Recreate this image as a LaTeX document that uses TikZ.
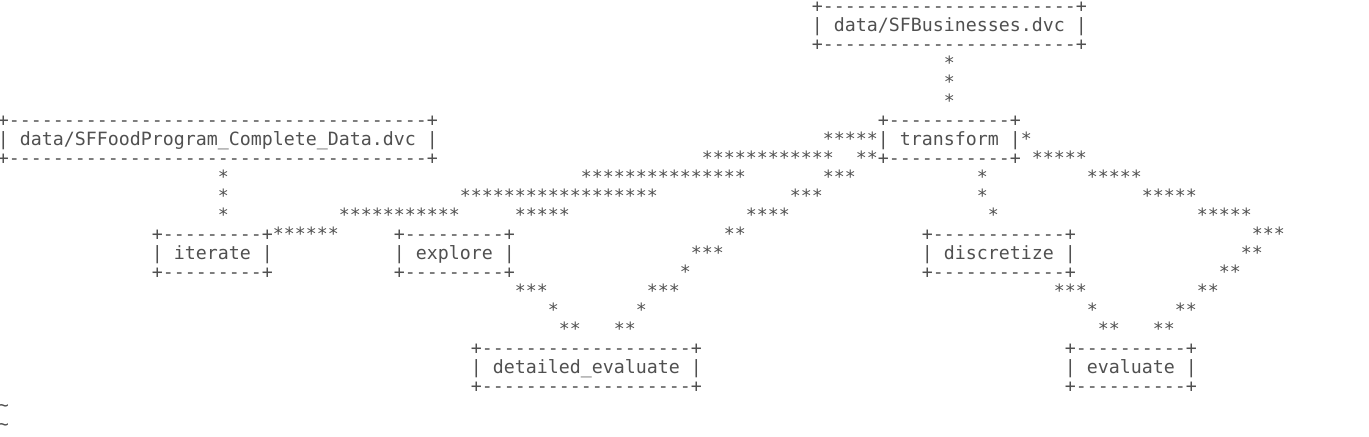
\documentclass[tikz,border=0pt]{standalone}
\usepackage{fontspec}
\setmonofont{DejaVu Sans Mono}
\usepackage{xcolor}
\usepackage{tikz}
\definecolor{termgray}{RGB}{80,80,80}
\pgfdeclarelayer{nodelayer}
\pgfdeclarelayer{edgelayer}
\pgfsetlayers{nodelayer,edgelayer,main}
\tikzset{
    ascii/.style = {inner sep=0pt, anchor=base west, text=termgray,
        font=\ttfamily\fontsize{9.1355pt}{9.5pt}\selectfont,
        xshift=-1.25pt, yshift=-6pt},
    stage/.style = {ascii, align=left}
}

\begin{document}
\begin{tikzpicture}[x=5.5pt, y=-9.5pt]
    \useasboundingbox (0pt, 0pt) rectangle (684.5pt, -218pt);
    \begin{pgfonlayer}{nodelayer}
        % boxes sit on the baseline of their bottom line
        \node [style=stage] (sfbiz) at (74, 2) {+-----------------------+\\| data/SFBusinesses.dvc |\\+-----------------------+};
        \node [style=stage] (sffood) at (0, 8) {+--------------------------------------+\\| data/SFFoodProgram\_Complete\_Data.dvc |\\+--------------------------------------+};
        \node [style=stage] (transform) at (80, 8) {+-----------+\\| transform |\\+-----------+};
        \node [style=stage] (iterate) at (14, 14) {+---------+\\| iterate |\\+---------+};
        \node [style=stage] (explore) at (36, 14) {+---------+\\| explore |\\+---------+};
        \node [style=stage] (discretize) at (84, 14) {+------------+\\| discretize |\\+------------+};
        \node [style=stage] (detailed) at (43, 20) {+-------------------+\\| detailed\_evaluate |\\+-------------------+};
        \node [style=stage] (evaluate) at (97, 20) {+----------+\\| evaluate |\\+----------+};
    \end{pgfonlayer}
    \begin{pgfonlayer}{edgelayer}
        % sfbiz -> transform, sffood -> iterate
        \foreach \r in {3,4,5} \node [style=ascii] (b\r) at (86, \r) {*};
        \foreach \r in {9,10,11} \node [style=ascii] (f\r) at (20, \r) {*};
        % transform -> iterate, explore, detailed
        \node [style=ascii] (0) at (75, 7) {*****};
        \node [style=ascii] (1) at (64, 8) {************};
        \node [style=ascii] (2) at (78, 8) {**};
        \node [style=ascii] (3) at (53, 9) {***************};
        \node [style=ascii] (4) at (75, 9) {***};
        \node [style=ascii] (5) at (42, 10) {******************};
        \node [style=ascii] (6) at (72, 10) {***};
        \node [style=ascii] (7) at (31, 11) {***********};
        \node [style=ascii] (8) at (47, 11) {*****};
        \node [style=ascii] (9) at (68, 11) {****};
        \node [style=ascii] (10) at (25, 12) {******};
        \node [style=ascii] (11) at (66, 12) {**};
        \node [style=ascii] (12) at (63, 13) {***};
        \node [style=ascii] (13) at (62, 14) {*};
        \node [style=ascii] (14) at (59, 15) {***};
        \node [style=ascii] (15) at (58, 16) {*};
        \node [style=ascii] (16) at (56, 17) {**};
        % explore -> detailed
        \node [style=ascii] (17) at (47, 15) {***};
        \node [style=ascii] (18) at (50, 16) {*};
        \node [style=ascii] (19) at (51, 17) {**};
        % transform -> discretize
        \node [style=ascii] (20) at (89, 9) {*};
        \node [style=ascii] (21) at (89, 10) {*};
        \node [style=ascii] (22) at (90, 11) {*};
        % transform -> evaluate
        \node [style=ascii] (23) at (93, 7) {*};
        \node [style=ascii] (24) at (94, 8) {*****};
        \node [style=ascii] (25) at (99, 9) {*****};
        \node [style=ascii] (26) at (104, 10) {*****};
        \node [style=ascii] (27) at (109, 11) {*****};
        \node [style=ascii] (28) at (114, 12) {***};
        \node [style=ascii] (29) at (113, 13) {**};
        \node [style=ascii] (30) at (111, 14) {**};
        \node [style=ascii] (31) at (109, 15) {**};
        \node [style=ascii] (32) at (107, 16) {**};
        \node [style=ascii] (33) at (105, 17) {**};
        % discretize -> evaluate
        \node [style=ascii] (34) at (96, 15) {***};
        \node [style=ascii] (35) at (99, 16) {*};
        \node [style=ascii] (36) at (100, 17) {**};
        % end of buffer
        \node [style=ascii] (37) at (0, 21) {\textasciitilde};
        \node [style=ascii] (38) at (0, 22) {\textasciitilde};
    \end{pgfonlayer}
\end{tikzpicture}
\end{document}
